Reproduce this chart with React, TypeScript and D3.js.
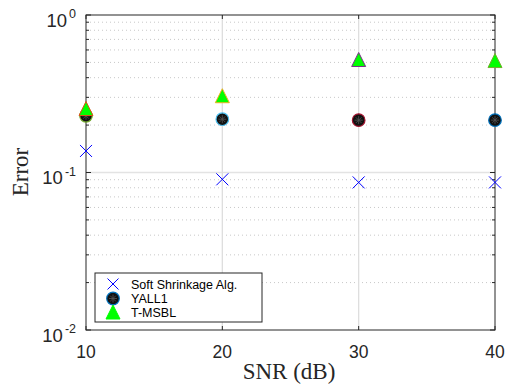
import React from "react";
import * as d3 from "d3";

const snr = [10, 20, 30, 40];
const softShrinkage = [0.137, 0.0905, 0.0865, 0.0865];
const yall1 = [0.229, 0.218, 0.215, 0.215];
const tmsbl = [0.253, 0.305, 0.518, 0.51];
const yallEdge = ["#77AC30", "#4DBEEE", "#A2142F", "#0072BD"];
const tmsblEdge = ["#D95319", "#EDB120", "#7E2F8E", "#77AC30"];
const xTicks = [10, 20, 30, 40];
const yDecades = [-2, -1, 0];
const legendLabels = ["Soft Shrinkage Alg.", "YALL1", "T-MSBL"];

const W = 505, H = 390;
const L = 86, R = 495, T = 15, B = 330;
const AX = "#262626";
const SANS = "'Liberation Sans', Arial, Helvetica, sans-serif";
const SERIF = "'Liberation Serif', 'Times New Roman', serif";

function XMark({ x, y, s = 6 }: { x: number; y: number; s?: number }) {
  return (
    <g stroke="#0000ff" strokeWidth={1}>
      <line x1={x - s} y1={y - s} x2={x + s} y2={y + s} />
      <line x1={x - s} y1={y + s} x2={x + s} y2={y - s} />
    </g>
  );
}

function Circ({ x, y, edge }: { x: number; y: number; edge: string }) {
  const r = 6.3;
  const spokes = d3.range(8).map((i) => (i * Math.PI) / 4);
  return (
    <g>
      <circle cx={x} cy={y} r={r} fill="#111" stroke={edge} strokeWidth={1.2} />
      {spokes.map((a, i) => (
        <line key={i} x1={x} y1={y} x2={x + Math.cos(a) * 4} y2={y + Math.sin(a) * 4} stroke="#555" strokeWidth={0.8} />
      ))}
    </g>
  );
}

function Tri({ x, y, edge }: { x: number; y: number; edge: string }) {
  const h = 13, w = 14;
  const p = `${x},${y - h / 2 - 1} ${x + w / 2},${y + h / 2} ${x - w / 2},${y + h / 2}`;
  return <polygon points={p} fill="#00ff00" stroke={edge} strokeWidth={1} />;
}

export default function App() {
  const x = d3.scaleLinear().domain([10, 40]).range([L, R]);
  const y = d3.scaleLog().domain([0.01, 1]).range([B, T]);

  const minors: number[] = [];
  for (const d of [-2, -1]) for (let k = 2; k <= 9; k++) minors.push(k * Math.pow(10, d));

  return (
    <svg width={W} height={H} style={{ position: "absolute", left: 0, top: 0, background: "#fff" }}>
      <rect x={0} y={0} width={W} height={H} fill="#fff" />
      {minors.map((v, i) => (
        <line key={"mg" + i} x1={L} x2={R} y1={y(v)} y2={y(v)} stroke="#c8c8c8" strokeWidth={1} strokeDasharray="1,3" />
      ))}
      {yDecades.filter((d) => d === -1).map((d) => (
        <line key={"Mg" + d} x1={L} x2={R} y1={y(Math.pow(10, d))} y2={y(Math.pow(10, d))} stroke="#e3e3e3" strokeWidth={1.3} />
      ))}
      {xTicks.filter((t) => t > 10 && t < 40).map((t) => (
        <line key={"vg" + t} x1={x(t)} x2={x(t)} y1={T} y2={B} stroke="#dedede" strokeWidth={1.3} />
      ))}
      {xTicks.map((t) => (
        <g key={"xt" + t} stroke={AX}>
          <line x1={x(t)} x2={x(t)} y1={B} y2={B - 4} />
          <line x1={x(t)} x2={x(t)} y1={T} y2={T + 4} />
        </g>
      ))}
      {minors.map((v, i) => (
        <g key={"mt" + i} stroke={AX}>
          <line x1={L} x2={L + 3} y1={y(v)} y2={y(v)} />
          <line x1={R} x2={R - 3} y1={y(v)} y2={y(v)} />
        </g>
      ))}
      {yDecades.map((d) => (
        <g key={"yt" + d} stroke={AX}>
          <line x1={L} x2={L + 5} y1={y(Math.pow(10, d))} y2={y(Math.pow(10, d))} />
          <line x1={R} x2={R - 5} y1={y(Math.pow(10, d))} y2={y(Math.pow(10, d))} />
        </g>
      ))}
      <rect x={L} y={T} width={R - L} height={B - T} fill="none" stroke={AX} strokeWidth={1} />
      {xTicks.map((t) => (
        <text key={"xl" + t} x={x(t)} y={358} textAnchor="middle" fontFamily={SANS} fontSize={17.5} fill={AX}>{t}</text>
      ))}
      {yDecades.map((d) => (
        <text key={"yl" + d} x={76} y={y(Math.pow(10, d)) + 11.5} textAnchor="end" fontFamily={SANS} fontSize={18.5} fill={AX}>
          10
          <tspan dx={2} dy={-8.5} fontSize={12.5}>{d}</tspan>
        </text>
      ))}
      <text x={289} y={379} textAnchor="middle" fontFamily={SERIF} fontSize={23} fill={AX}>SNR (dB)</text>
      <text transform={`translate(28,172) rotate(-90)`} textAnchor="middle" fontFamily={SERIF} fontSize={23} fill={AX}>Error</text>
      {snr.map((s, i) => <XMark key={"s" + i} x={x(s)} y={y(softShrinkage[i])} />)}
      {snr.map((s, i) => <Circ key={"c" + i} x={x(s)} y={y(yall1[i])} edge={yallEdge[i]} />)}
      {snr.map((s, i) => <Tri key={"t" + i} x={x(s)} y={y(tmsbl[i])} edge={tmsblEdge[i]} />)}
      <g>
        <rect x={95} y={273} width={167} height={49} fill="#fff" stroke={AX} strokeWidth={1} />
        <XMark x={113} y={284} s={5.5} />
        <Circ x={113} y={298.5} edge="#0072BD" />
        <Tri x={113} y={312.5} edge="#00ff00" />
        {legendLabels.map((l, i) => (
          <text key={l} x={131} y={288.5 + i * 14.3} fontFamily={SANS} fontSize={12.5} fill="#000">{l}</text>
        ))}
      </g>
    </svg>
  );
}
